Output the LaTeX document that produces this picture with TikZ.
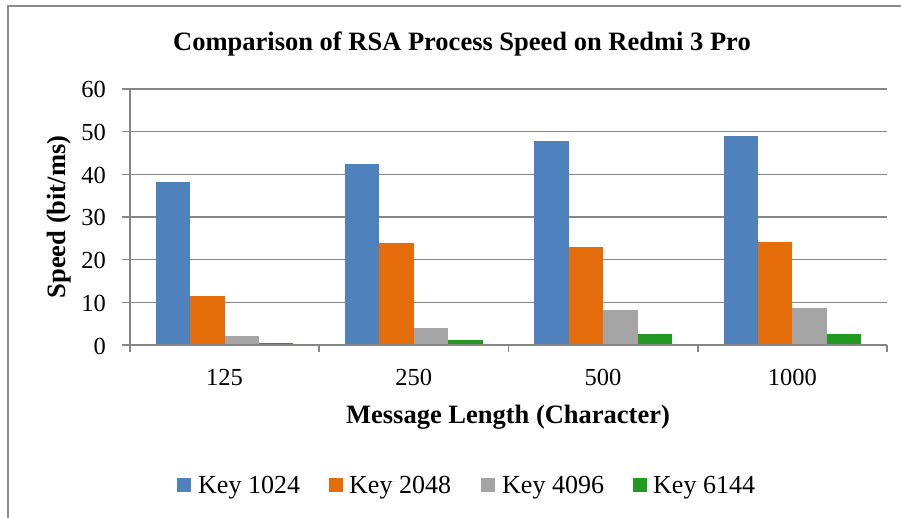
\documentclass[tikz,border=0pt]{standalone}
\usepackage{fontspec}
\setmainfont{Liberation Serif}
\definecolor{k1024}{RGB}{79,129,189}
\definecolor{k2048}{RGB}{228,108,10}
\definecolor{k4096}{RGB}{165,165,165}
\definecolor{k6144}{RGB}{34,154,34}
\definecolor{gridc}{RGB}{134,134,134}
\definecolor{framec}{RGB}{140,140,140}
\begin{document}
\begin{tikzpicture}[x=1pt,y=-1pt,
  grid/.style={draw=gridc,line width=1.6pt},
  ticklab/.style={font=\fontsize{24.5}{24.5}\selectfont,inner sep=0pt},
  axlab/.style={font=\bfseries\fontsize{26.5}{26.5}\selectfont,inner sep=0pt},
  legbox/.style={minimum size=14pt,inner sep=0pt,draw=none},
  legtxt/.style={font=\fontsize{26}{26}\selectfont,inner sep=0pt,anchor=base west}]
\useasboundingbox (0,0) rectangle (901,517);
\fill[white] (0,0) rectangle (901,517);
% outer frame of the chart area
\draw[draw=framec,line width=1.4pt] (8,530) -- (8,6) -- (910,6);
% title
\node[axlab,anchor=base] (title) at (462,50) {Comparison of RSA Process Speed on Redmi 3 Pro};
% horizontal grid lines and y ticks (0 at y=345, 42.67 px per 10)
\foreach \v [count=\i from 0] in {0,10,20,30,40,50,60}{
  \pgfmathsetmacro{\yy}{345-\i*42.67}
  \draw[grid] (122,\yy) -- (887,\yy);
  \node[ticklab,anchor=base east] (yl\i) at (106,\yy+9) {\v};
}
% vertical axis
\draw[grid] (130,89) -- (130,352);
% category ticks
\foreach \i in {0,...,4}{
  \pgfmathsetmacro{\xx}{130+\i*189.25}
  \draw[grid] (\xx,345) -- (\xx,352);
}
% bars: width 34.4, group starts 25.8 after category start
\newcommand{\drawgroup}[5]{%
  \pgfmathsetmacro{\gx}{130+#1*189.25+25.8}
  \foreach \val/\col [count=\j from 0] in {#2/k1024,#3/k2048,#4/k4096,#5/k6144}{
    \pgfmathsetmacro{\bx}{\gx+\j*34.4}
    \pgfmathsetmacro{\by}{345-\val*4.267}
    \fill[\col] (\bx,345) rectangle (\bx+34.4,\by);
  }
}
\drawgroup{0}{38.2}{11.5}{2.0}{0.5}
\drawgroup{1}{42.4}{24.0}{4.1}{1.2}
\drawgroup{2}{47.8}{22.9}{8.1}{2.6}
\drawgroup{3}{48.9}{24.1}{8.6}{2.5}
% redraw base axis line on top of bars
\draw[grid] (122,345) -- (887,345);
% category labels
\foreach \lab [count=\i from 0] in {125,250,500,1000}{
  \node[ticklab,anchor=base] (xl\i) at (130+\i*189.25+94.6,385) {\lab};
}
% axis titles
\node[axlab,anchor=base] (xtitle) at (508,423) {Message Length (Character)};
\node[axlab,rotate=90] (ytitle) at (59,217) {Speed (bit/ms)};
% legend
\node[legbox,fill=k1024] (l1) at (184,485) {};
\node[legtxt] (t1) at (198,493) {Key 1024};
\node[legbox,fill=k2048] (l2) at (336,485) {};
\node[legtxt] (t2) at (349,493) {Key 2048};
\node[legbox,fill=k4096] (l3) at (488,485) {};
\node[legtxt] (t3) at (502,493) {Key 4096};
\node[legbox,fill=k6144] (l4) at (640,485) {};
\node[legtxt] (t4) at (653,493) {Key 6144};
\end{tikzpicture}
\end{document}
